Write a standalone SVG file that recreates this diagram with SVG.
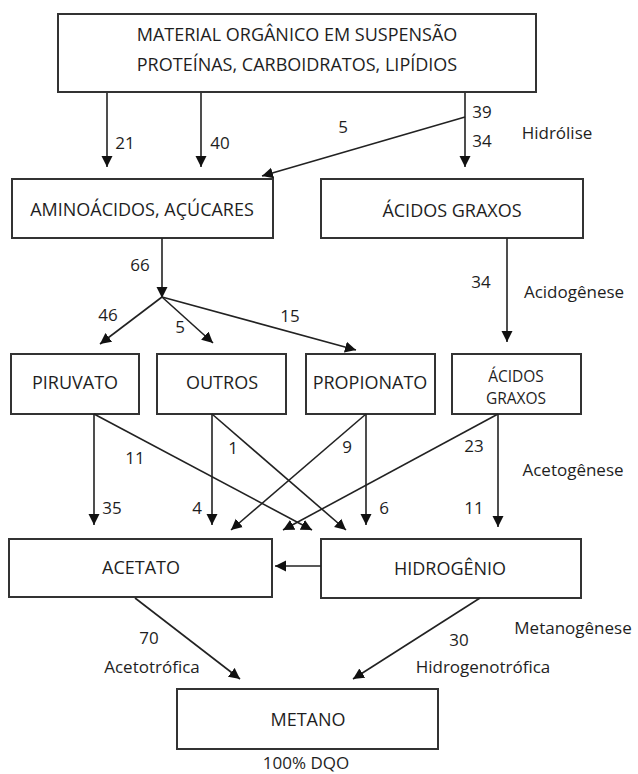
<svg xmlns="http://www.w3.org/2000/svg" width="638" height="774" viewBox="0 0 638 774">
<style>
text{font-family:"Open Sans","Noto Sans","Liberation Sans",sans-serif;fill:#1e1e1e}
.b{font-size:18px;text-anchor:middle}
.s{font-size:15.5px}
.l{font-size:17px}
.m{text-anchor:middle}
rect{fill:#fff;stroke:#333;stroke-width:2}
.c line{stroke:#222;stroke-width:1.6;fill:none}
.a{marker-end:url(#ah)}
</style>
<defs>
<marker id="ah" markerUnits="userSpaceOnUse" markerWidth="12" markerHeight="12" viewBox="0 0 12 12" refX="11" refY="6" orient="auto">
<path d="M0,0.5 L11,6 L0,11.5 z" fill="#111"/>
</marker>
</defs>
<rect width="638" height="774" style="stroke:none"/>
<g id="n-material"><rect x="58" y="14" width="478" height="78"/>
<text class="b" x="297" y="41">MATERIAL ORGÂNICO EM SUSPENSÃO</text>
<text class="b" x="297" y="71">PROTEÍNAS, CARBOIDRATOS, LIPÍDIOS</text></g>
<g id="n-amino"><rect x="12" y="179" width="261" height="59"/><text class="b" x="142" y="216">AMINOÁCIDOS, AÇÚCARES</text></g>
<g id="n-acidos1"><rect x="321" y="179" width="262" height="59"/><text class="b" x="452" y="217">ÁCIDOS GRAXOS</text></g>
<g id="n-piruvato"><rect x="11" y="354" width="128" height="60"/><text class="b" x="75" y="389">PIRUVATO</text></g>
<g id="n-outros"><rect x="157" y="354" width="129" height="60"/><text class="b" x="222" y="389">OUTROS</text></g>
<g id="n-propionato"><rect x="306" y="354" width="129" height="60"/><text class="b" x="370" y="389">PROPIONATO</text></g>
<g id="n-acidos2"><rect x="452" y="354" width="129" height="60"/><text class="b s" x="516" y="382">ÁCIDOS</text><text class="b s" x="516" y="404">GRAXOS</text></g>
<g id="n-acetato"><rect x="9" y="539" width="263" height="58"/><text class="b" x="141" y="574">ACETATO</text></g>
<g id="n-hidrogenio"><rect x="321" y="539" width="260" height="59"/><text class="b" x="450" y="575">HIDROGÊNIO</text></g>
<g id="n-metano"><rect x="177" y="689" width="261" height="60"/><text class="b" x="308" y="726">METANO</text></g>
<g class="c" id="connectors">
<line class="a" x1="107" y1="93" x2="107" y2="167"/>
<line class="a" x1="201" y1="93" x2="201" y2="167"/>
<line class="a" x1="465" y1="93" x2="465" y2="167"/>
<line class="a" x1="465" y1="117" x2="262" y2="176"/>
<line class="a" x1="162" y1="238" x2="162" y2="298"/>
<line class="a" x1="162" y1="297" x2="100" y2="344"/>
<line class="a" x1="162" y1="297" x2="213" y2="343"/>
<line class="a" x1="162" y1="297" x2="356" y2="350"/>
<line class="a" x1="507" y1="238" x2="507" y2="342"/>
<line class="a" x1="94" y1="414" x2="94" y2="525"/>
<line class="a" x1="94" y1="414" x2="312" y2="530"/>
<line class="a" x1="212" y1="414" x2="212" y2="525"/>
<line class="a" x1="212" y1="414" x2="346" y2="530"/>
<line class="a" x1="366" y1="414" x2="366" y2="525"/>
<line class="a" x1="366" y1="414" x2="231" y2="530"/>
<line class="a" x1="498" y1="414" x2="498" y2="527"/>
<line class="a" x1="498" y1="414" x2="283" y2="530"/>
<line class="a" x1="321" y1="566" x2="275" y2="566"/>
<line class="a" x1="135" y1="598" x2="240" y2="679"/>
<line class="a" x1="480" y1="598" x2="353" y2="679"/>
</g>
<g id="labels" class="l">
<text class="m" x="125" y="149">21</text>
<text class="m" x="220" y="149">40</text>
<text class="m" x="482" y="118">39</text>
<text class="m" x="482" y="147">34</text>
<text class="m" x="343" y="133">5</text>
<text class="m" x="557" y="139">Hidrólise</text>
<text class="m" x="140" y="271">66</text>
<text class="m" x="108" y="321">46</text>
<text class="m" x="180" y="333">5</text>
<text class="m" x="290" y="322">15</text>
<text class="m" x="481" y="288">34</text>
<text class="m" x="574" y="298">Acidogênese</text>
<text class="m" x="135" y="464">11</text>
<text class="m" x="233" y="454">1</text>
<text class="m" x="347" y="453">9</text>
<text class="m" x="474" y="452">23</text>
<text class="m" x="573" y="476">Acetogênese</text>
<text class="m" x="112" y="514">35</text>
<text class="m" x="197" y="514">4</text>
<text class="m" x="384" y="514">6</text>
<text class="m" x="474" y="514">11</text>
<text class="m" x="149" y="644">70</text>
<text class="m" x="152" y="673">Acetotrófica</text>
<text class="m" x="459" y="646">30</text>
<text class="m" x="483" y="673">Hidrogenotrófica</text>
<text class="m" x="573" y="634">Metanogênese</text>
<text class="m" x="306" y="769">100% DQO</text>
</g>
</svg>
